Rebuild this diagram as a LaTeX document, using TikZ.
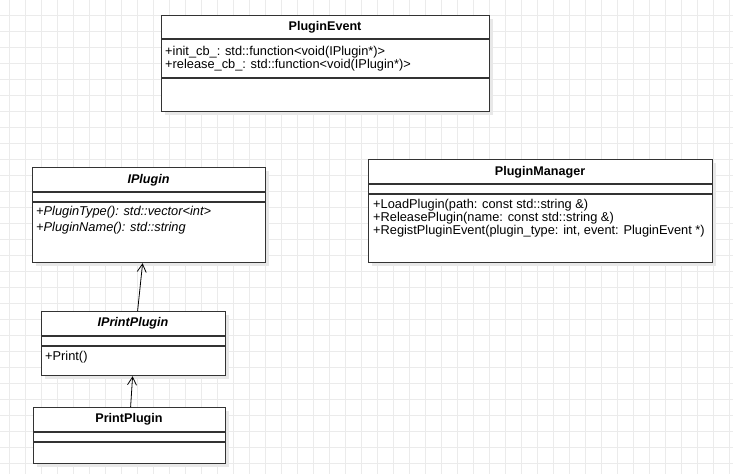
\documentclass[tikz,border=0pt]{standalone}
\usepackage{fontspec}
\setmainfont{Liberation Sans}
\usetikzlibrary{arrows.meta}
\tikzset{
  classbox/.style={draw=black!80, line width=1.2pt, fill=white, inner sep=0pt, anchor=north west},
  shadowbox/.style={fill=black!9, draw=none},
  divider/.style={draw=black!80, line width=1.2pt},
  title/.style={font=\fontsize{12.6}{14}\selectfont\bfseries},
  member/.style={font=\fontsize{12.8}{13}\selectfont, anchor=west, inner sep=0pt},
  inherit/.style={draw=black, line width=0.8pt, -{Straight Barb[length=8pt,width=9pt]}}
}
\begin{document}
\begin{tikzpicture}[x=1pt,y=-1pt]
\useasboundingbox (0,0) rectangle (733,474);
\fill[white] (0,0) rectangle (733,474);
% background grid
\foreach \x in {9,25,...,733} {
\draw[black!8,line width=0.8pt] (\x,0) -- (\x,474);
}
\foreach \y in {15,31,...,474} {
\draw[black!8,line width=0.8pt] (0,\y) -- (733,\y);
}
% shadows
\fill[shadowbox] (165,19) rectangle (493,115);
\fill[shadowbox] (36,171) rectangle (269,266);
\fill[shadowbox] (372,163) rectangle (716,266);
\fill[shadowbox] (45,315) rectangle (229,379);
\fill[shadowbox] (37,411) rectangle (229,467);
% PluginEvent
\node[classbox, minimum width=328, minimum height=96] (event) at (161,15) {};
\node[title] at (325,27) {PluginEvent};
\draw[divider] (161,39) -- (489,39);
\node[member] at (165,52) {+init\_cb\_: std::function<void(IPlugin*)>};
\node[member] at (165,65) {+release\_cb\_: std::function<void(IPlugin*)>};
\draw[divider] (161,78) -- (489,78);
% IPlugin
\node[classbox, minimum width=233, minimum height=95] (iplugin) at (32,167) {};
\node[title,font=\fontsize{12.6}{14}\selectfont\bfseries\itshape] at (148.5,180) {IPlugin};
\draw[divider] (32,192) -- (265,192);
\draw[divider] (32,202) -- (265,202);
\node[member,font=\fontsize{12.8}{13}\selectfont\itshape] at (36,212) {+PluginType(): std::vector<int>};
\node[member,font=\fontsize{12.8}{13}\selectfont\itshape] at (36,228) {+PluginName(): std::string};
% PluginManager
\node[classbox, minimum width=344, minimum height=103] (manager) at (368,159) {};
\node[title] at (540,172) {PluginManager};
\draw[divider] (368,184) -- (712,184);
\draw[divider] (368,194) -- (712,194);
\node[member] at (373,205) {+LoadPlugin(path: const std::string \&)};
\node[member] at (373,218) {+ReleasePlugin(name: const std::string \&)};
\node[member] at (373,231) {+RegistPluginEvent(plugin\_type: int, event: PluginEvent *)};
% IPrintPlugin
\node[classbox, minimum width=184, minimum height=64] (printif) at (41,311) {};
\node[title,font=\fontsize{12.6}{14}\selectfont\bfseries\itshape] at (133,323) {IPrintPlugin};
\draw[divider] (41,336) -- (225,336);
\draw[divider] (41,346) -- (225,346);
\node[member] at (45,357) {+Print()};
% PrintPlugin
\node[classbox, minimum width=192, minimum height=56] (printplugin) at (33,407) {};
\node[title] at (129,419) {PrintPlugin};
\draw[divider] (33,432) -- (225,432);
\draw[divider] (33,442) -- (225,442);
% inheritance
\draw[inherit] ([xshift=4]printif.north) -- ([xshift=-6.5]iplugin.south);
\draw[inherit] ([xshift=1]printplugin.north) -- ([xshift=-1]printif.south);
\end{tikzpicture}
\end{document}
